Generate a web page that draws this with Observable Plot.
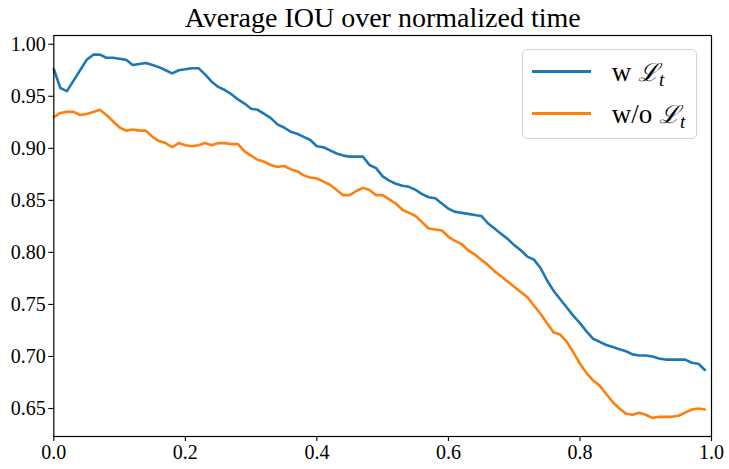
<!DOCTYPE html>
<html><head><meta charset="utf-8">
<script src="https://cdn.jsdelivr.net/npm/d3@7"></script>
<script src="https://cdn.jsdelivr.net/npm/@observablehq/plot@0.6"></script>
<style>
body{margin:0;background:#fff;}
#wrap{position:relative;width:729px;height:469px;font-family:"Liberation Serif","Times New Roman",serif;}
#legend{position:absolute;left:521.7px;top:49.3px;width:175.6px;height:90px;box-sizing:border-box;border:1px solid #d4d4d4;border-radius:5px;background:rgba(255,255,255,0.8);}
.sw{position:absolute;left:9.3px;width:59px;height:3px;}
.lab{position:absolute;left:89px;font-size:27px;line-height:27px;white-space:nowrap;color:#000;}
.cal{font-family:"DejaVu Serif",serif;font-style:italic;font-size:25px;}
.sub{font-style:italic;font-size:19px;position:relative;top:5px;}
</style></head>
<body>
<div id="wrap"><div id="chart"></div><div id="legend"></div></div>
<script>
const time = [0.00,0.01,0.02,0.03,0.04,0.05,0.06,0.07,0.08,0.09,
0.10,0.11,0.12,0.13,0.14,0.15,0.16,0.17,0.18,0.19,
0.20,0.21,0.22,0.23,0.24,0.25,0.26,0.27,0.28,0.29,
0.30,0.31,0.32,0.33,0.34,0.35,0.36,0.37,0.38,0.39,
0.40,0.41,0.42,0.43,0.44,0.45,0.46,0.47,0.48,0.49,
0.50,0.51,0.52,0.53,0.54,0.55,0.56,0.57,0.58,0.59,
0.60,0.61,0.62,0.63,0.64,0.65,0.66,0.67,0.68,0.69,
0.70,0.71,0.72,0.73,0.74,0.75,0.76,0.77,0.78,0.79,
0.80,0.81,0.82,0.83,0.84,0.85,0.86,0.87,0.88,0.89,
0.90,0.91,0.92,0.93,0.94,0.95,0.96,0.97,0.98,0.99];

const withLt = [0.976,0.958,0.955,0.965,0.975,0.985,0.990,0.990,0.987,0.987,
0.986,0.985,0.980,0.981,0.982,0.980,0.978,0.975,0.972,0.975,
0.976,0.977,0.977,0.971,0.964,0.959,0.956,0.952,0.947,0.943,
0.938,0.937,0.933,0.929,0.923,0.920,0.916,0.914,0.911,0.908,
0.902,0.901,0.898,0.895,0.893,0.892,0.892,0.892,0.884,0.881,
0.873,0.869,0.866,0.864,0.863,0.860,0.856,0.853,0.852,0.847,
0.842,0.839,0.838,0.837,0.836,0.835,0.828,0.823,0.818,0.813,
0.807,0.802,0.796,0.793,0.785,0.773,0.763,0.755,0.747,0.739,
0.732,0.724,0.717,0.714,0.711,0.709,0.707,0.705,0.702,0.701,
0.701,0.700,0.698,0.697,0.697,0.697,0.697,0.694,0.693,0.687];

const withoutLt = [0.930,0.934,0.935,0.935,0.932,0.933,0.935,0.937,0.932,0.926,
0.920,0.917,0.918,0.917,0.917,0.911,0.907,0.905,0.901,0.905,
0.903,0.902,0.903,0.905,0.903,0.905,0.905,0.904,0.904,0.897,
0.893,0.889,0.887,0.884,0.882,0.883,0.880,0.878,0.874,0.872,
0.871,0.868,0.865,0.860,0.855,0.855,0.859,0.862,0.860,0.855,
0.855,0.851,0.847,0.841,0.838,0.835,0.829,0.823,0.822,0.821,
0.815,0.811,0.808,0.802,0.798,0.793,0.788,0.782,0.777,0.772,
0.767,0.762,0.757,0.749,0.741,0.732,0.723,0.721,0.714,0.704,
0.693,0.684,0.677,0.672,0.664,0.656,0.650,0.645,0.644,0.646,
0.644,0.641,0.642,0.642,0.642,0.643,0.646,0.649,0.650,0.649];

const seriesNames = ["w", "w/o"];
const seriesColors = ["#1f77b4", "#ff7f0e"];
const xTicks = [0, 0.2, 0.4, 0.6, 0.8, 1.0];
const yTicks = [0.65, 0.70, 0.75, 0.80, 0.85, 0.90, 0.95, 1.00];
const titleText = "Average IOU over normalized time";

const rows = [];
time.forEach((t, i) => rows.push({t, v: withLt[i], s: seriesNames[0]}));
time.forEach((t, i) => rows.push({t, v: withoutLt[i], s: seriesNames[1]}));

const chart = Plot.plot({
  width: 729, height: 469,
  marginLeft: 53.3, marginRight: 18, marginTop: 35, marginBottom: 33,
  style: {fontFamily: '"Liberation Serif", "Times New Roman", serif', fontSize: "20px", color: "#000", background: "#fff", overflow: "visible"},
  x: {domain: [0, 1]},
  y: {domain: [0.6231, 1.0084]},
  color: {domain: seriesNames, range: seriesColors},
  marks: [
    Plot.axisX({ticks: xTicks, tickSize: 5, tickPadding: 3, tickFormat: d3.format(".1f"), label: null, fontSize: 20, strokeWidth: 1.1}),
    Plot.axisY({ticks: yTicks, tickSize: 5, tickPadding: 3, tickFormat: d3.format(".2f"), label: null, fontSize: 20, strokeWidth: 1.1}),
    Plot.line(rows, {x: "t", y: "v", z: "s", stroke: "s", strokeWidth: 2.6}),
    Plot.frame({stroke: "#000", strokeWidth: 1.2}),
    Plot.text([titleText], {text: d => d, frameAnchor: "top", lineAnchor: "bottom", dy: -8.3, fontSize: 28, fill: "#000"})
  ]
});
document.getElementById("chart").appendChild(chart);

const legend = document.getElementById("legend");
const rowCenters = [21.7, 63];
seriesNames.forEach((name, i) => {
  const sw = document.createElement("div");
  sw.className = "sw";
  sw.style.background = seriesColors[i];
  sw.style.top = (rowCenters[i] - 1.5) + "px";
  legend.appendChild(sw);
  const lab = document.createElement("div");
  lab.className = "lab";
  lab.style.top = (rowCenters[i] - 12.5) + "px";
  lab.innerHTML = name + ' <span class="cal">ℒ</span><span class="sub">t</span>';
  legend.appendChild(lab);
});
</script>
</body></html>
